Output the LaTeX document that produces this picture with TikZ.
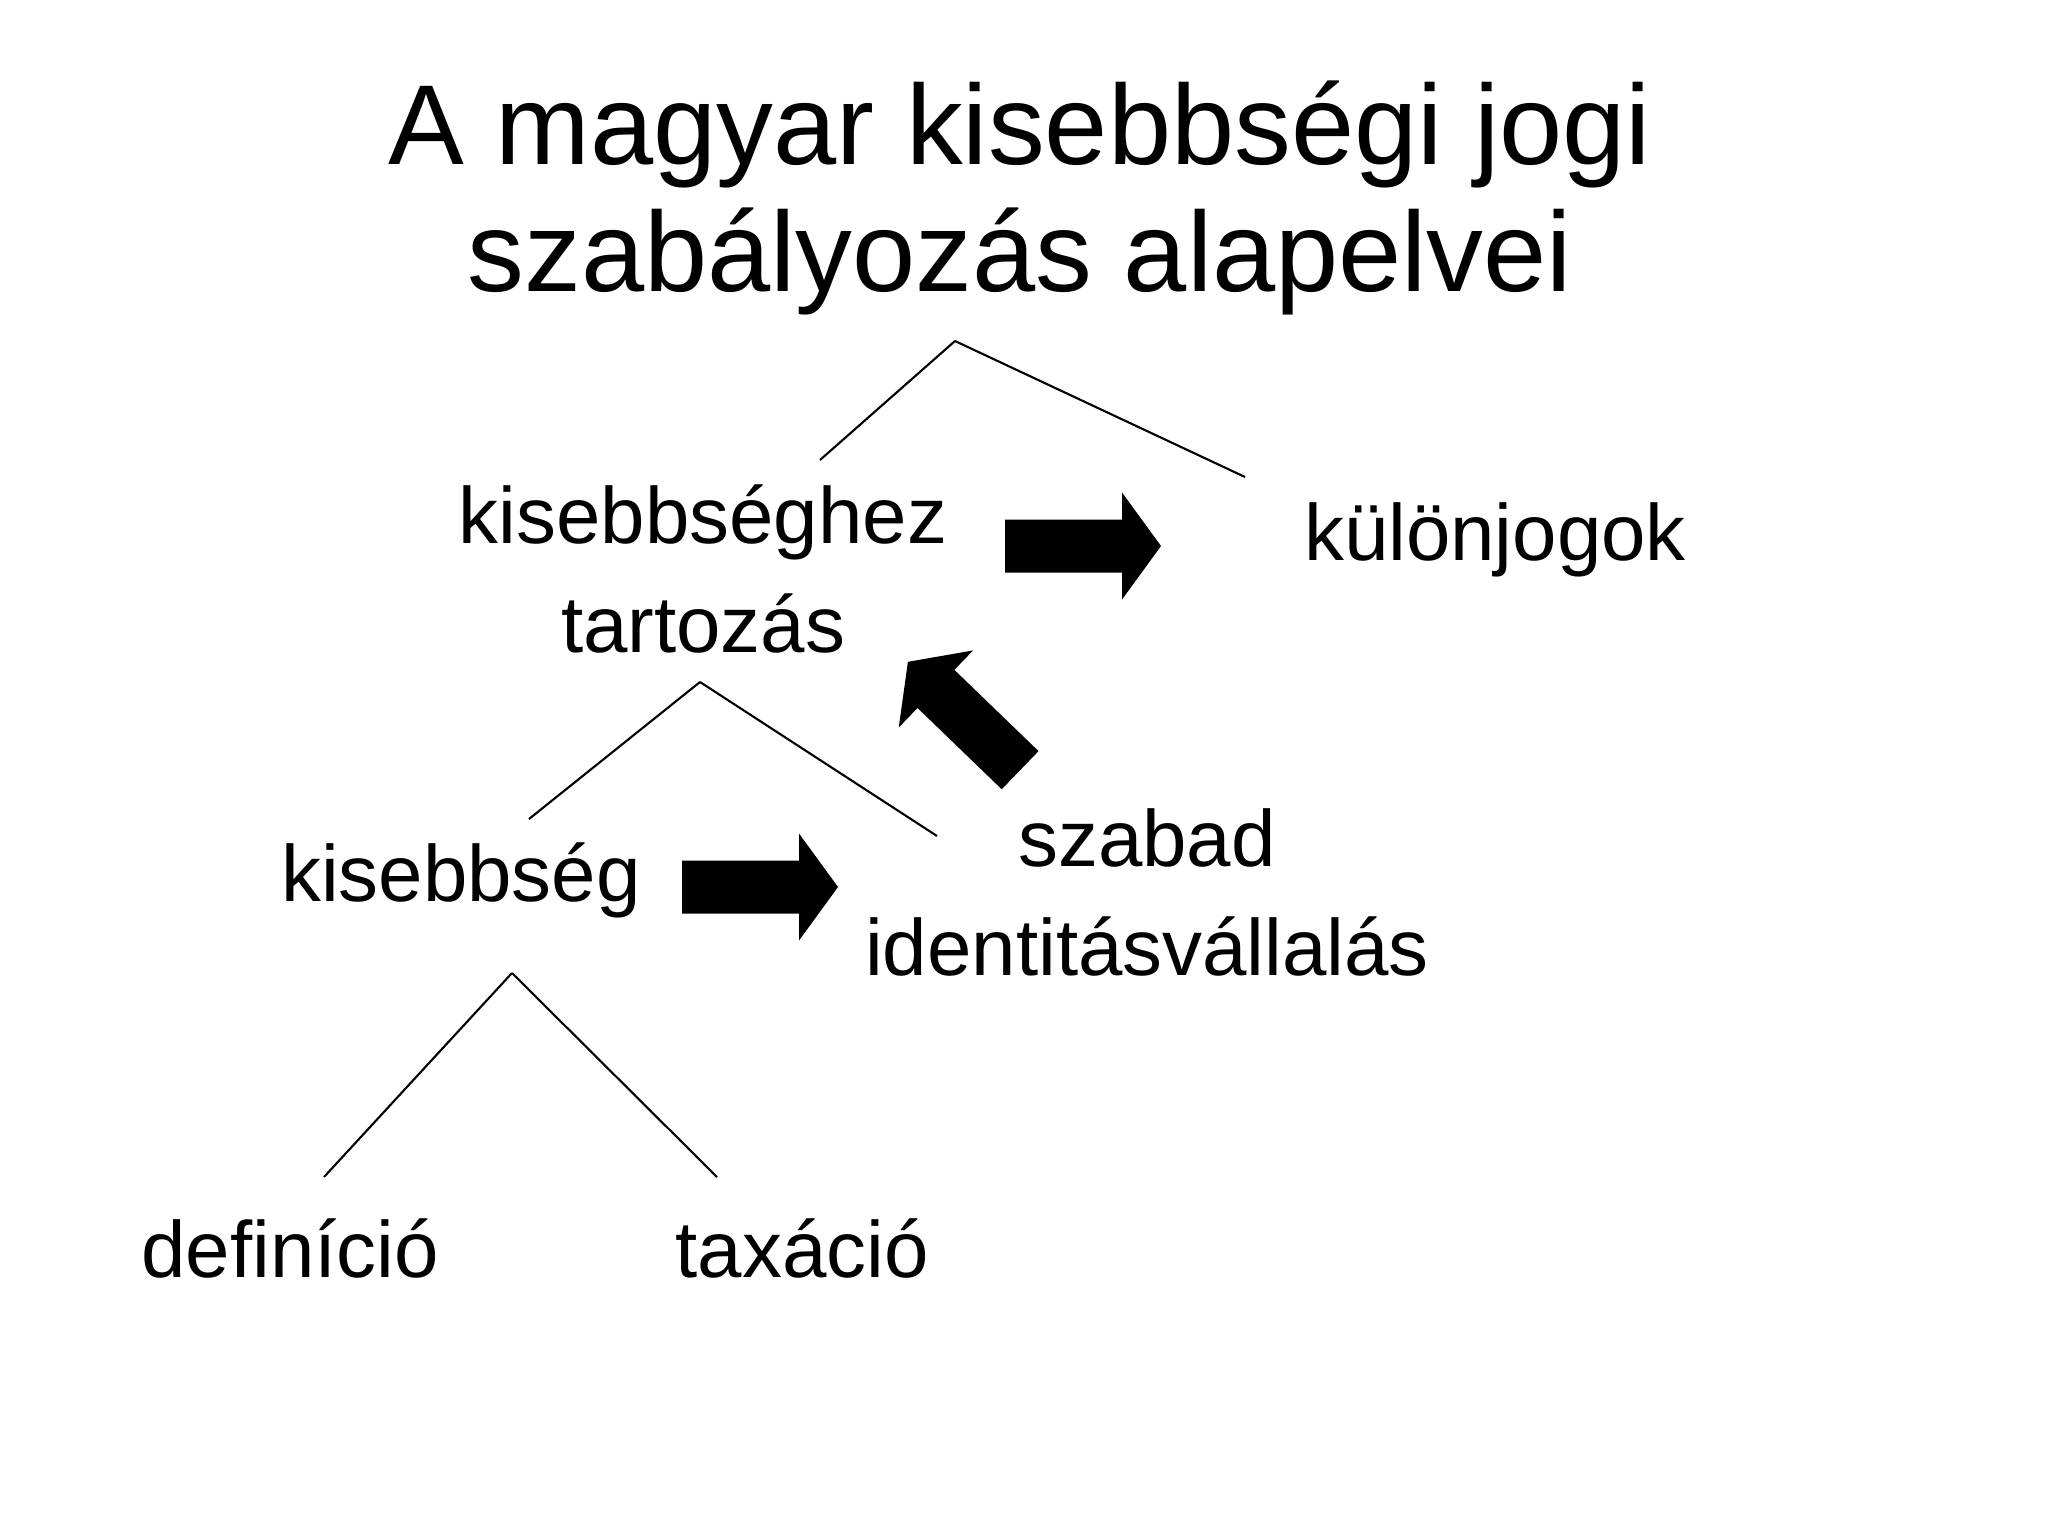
\documentclass[tikz,border=0pt]{standalone}
\usepackage{fontspec}
\setmainfont{Liberation Sans}

\begin{document}
\begin{tikzpicture}[x=0.01cm, y=-0.01cm,
	heading/.style={font=\fontsize{32.3}{35.9}\selectfont, align=center, anchor=base, inner sep=0pt},
	term/.style={font=\fontsize{22.7}{30.9}\selectfont, align=center, anchor=base, inner sep=0pt},
	tree/.style={line width=0.6pt},
	blockarrow/.pic={\fill (-78,-26.5) -- (39,-26.5) -- (39,-53.5) -- (78,0) -- (39,53.5) -- (39,26.5) -- (-78,26.5) -- cycle;}]
\useasboundingbox (0,0) rectangle (2048,1536);
\node[heading] (title) at (1020,291) {A magyar kisebbségi jogi\\szabályozás alapelvei};
\node[term] (tartozas) at (703,652) {kisebbséghez\\tartozás};
\node[term] (kulonjog) at (1495,560) {különjogok};
\node[term] (kisebbseg) at (461,901) {kisebbség};
\node[term] (identitas) at (1147,975) {szabad\\identitásvállalás};
\node[term] (definicio) at (290,1277) {definíció};
\node[term] (taxacio) at (802,1277) {taxáció};
\coordinate (t1) at (955,341);
\coordinate (t1l) at (820,460);
\coordinate (t1r) at (1245,477);
\coordinate (t2) at (700,682);
\coordinate (t2l) at (529,819);
\coordinate (t2r) at (937,836);
\coordinate (t3) at (512,973);
\coordinate (t3l) at (324,1177);
\coordinate (t3r) at (717,1177);
\path[tree]
(t1) edge (t1l) edge (t1r)
(t2) edge (t2l) edge (t2r)
(t3) edge (t3l) edge (t3r)
;
\pic at (1083,546) {blockarrow};
\pic at (760,887) {blockarrow};
\pic[rotate=136] at (964,716) {blockarrow};
\end{tikzpicture}
\end{document}
